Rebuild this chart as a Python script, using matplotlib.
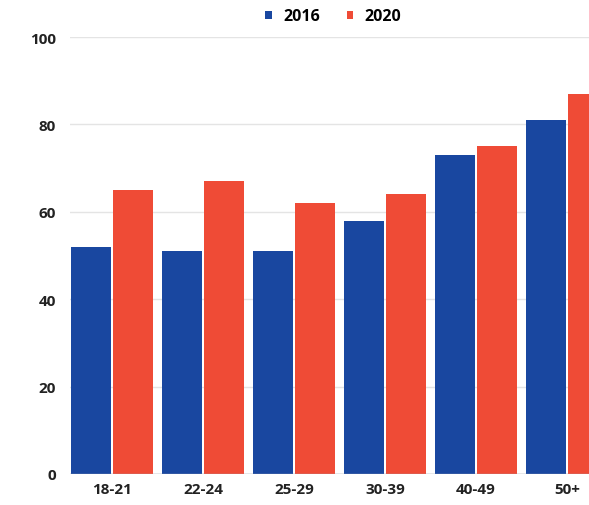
import numpy as np
import matplotlib.pyplot as plt

categories = ['18-21', '22-24', '25-29', '30-39', '40-49', '50+']
values_2016 = [52, 51, 51, 58, 73, 81]
values_2020 = [65, 67, 62, 64, 75, 87]
yticks = [0, 20, 40, 60, 80, 100]

BLUE = '#1947a0'
RED = '#ef4b36'

plt.rcParams['font.family'] = ['Open Sans', 'DejaVu Sans']

fig = plt.figure(figsize=(5.89, 5.06), dpi=100)
# right edge runs past the figure, as in the cropped original
ax = fig.add_axes([70 / 589, 31 / 506, 539 / 589, 437 / 506])

x = np.arange(len(categories))
w = 0.44
ax.bar(x - 0.23, values_2016, width=w, color=BLUE, label='2016', zorder=3)
ax.bar(x + 0.23, values_2020, width=w, color=RED, label='2020', zorder=3)

ax.set_xlim(-0.46, 5.46)
ax.set_ylim(0, 100)
ax.set_yticks(yticks)
ax.set_xticks(x)
ax.set_xticklabels(categories)
ax.grid(axis='y', color='#e4e4e4', linewidth=1, zorder=0)
ax.axhline(0, color='#9aa0b0', linewidth=1, zorder=4)
for s in ax.spines.values():
    s.set_visible(False)
ax.tick_params(length=0, labelsize=11, colors='#222222', pad=6)
ax.tick_params(axis='y', pad=10)
for t in ax.get_xticklabels() + ax.get_yticklabels():
    t.set_fontweight('bold')

fig.legend(loc='upper left', bbox_to_anchor=(251 / 589, 1.01), ncol=2,
           frameon=False, handlelength=0.4, handleheight=0.4,
           handletextpad=0.7, columnspacing=1.7,
           prop={'weight': 'bold', 'size': 11.5})

fig.savefig('out.png', dpi=100, facecolor='white')
